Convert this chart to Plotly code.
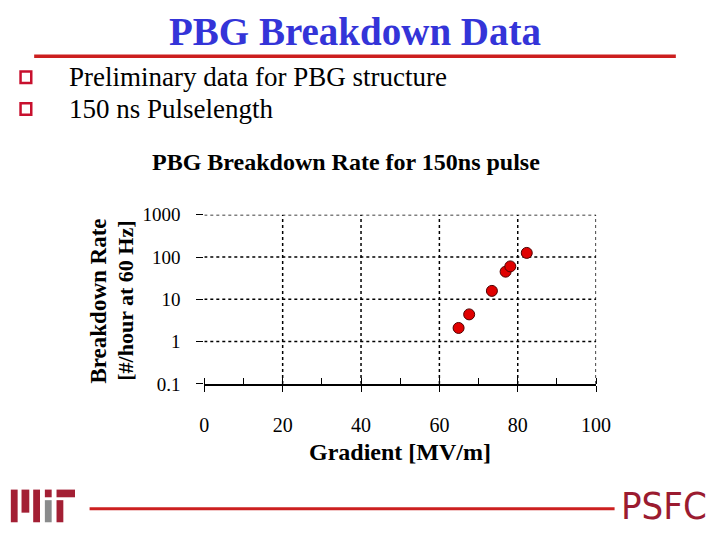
import plotly.graph_objects as go

# ---- data ----
gradient = [64.9, 67.6, 73.4, 76.9, 78.1, 82.3]          # MV/m
rate = [2.1, 4.4, 15.8, 45, 60, 125]                     # #/hour at 60 Hz
x_ticks = [0, 20, 40, 60, 80, 100]
x_tick_text = ["0", "20", "40", "60", "80", "100"]
y_ticks = [0.1, 1, 10, 100, 1000]
y_tick_text = ["0.1", "1", "10", "100", "1000"]
bullets = ["Preliminary data for PBG structure", "150 ns Pulselength"]

SERIF = "Liberation Serif, Times New Roman, serif"
W, H = 720, 540

def px(x):
    return x / W

def py(y):
    return 1 - y / H

fig = go.Figure()
fig.add_trace(go.Scatter(
    x=gradient, y=rate, mode="markers",
    marker=dict(color="#e00000", size=11, line=dict(color="#500000", width=1)),
    showlegend=False, hoverinfo="skip",
))

shapes = []
for xv in x_ticks[1:]:
    shapes.append(dict(type="line", xref="x", yref="y", x0=xv, x1=xv, y0=y_ticks[0], y1=y_ticks[-1],
                       line=dict(color="black", width=1.5, dash="dot"), layer="below"))
for yv in y_ticks[1:]:
    shapes.append(dict(type="line", xref="x", yref="y", x0=x_ticks[0], x1=x_ticks[-1], y0=yv, y1=yv,
                       line=dict(color="black", width=1.5, dash="dot"), layer="below"))

# title underline
shapes.append(dict(type="line", xref="paper", yref="paper", x0=px(30), x1=px(690), y0=py(48), y1=py(48),
                   line=dict(color="#cc1f1f", width=3.5)))
# bullets (hollow red squares)
for yc in [70, 103]:
    shapes.append(dict(type="rect", xref="paper", yref="paper", x0=px(16), x1=px(27), y0=py(yc - 6), y1=py(yc + 6),
                       line=dict(color="#c8102e", width=2.5), fillcolor="white"))
# footer line
shapes.append(dict(type="line", xref="paper", yref="paper", x0=px(87), x1=px(627), y0=py(519), y1=py(519),
                   line=dict(color="#cc1f1f", width=3)))
# MIT logo bars
mit_red = "#a31f34"
mit_gray = "#8a8b8c"
logo = [
    (6, 13, 499, 533, mit_red),
    (17, 25, 499, 523, mit_red),
    (29, 36, 499, 533, mit_red),
    (41, 48, 499, 507, mit_red),
    (41, 48, 510, 533, mit_gray),
    (53, 72, 499, 507, mit_red),
    (53, 60, 510, 533, mit_red),
]
for x0, x1, y0, y1, c in logo:
    shapes.append(dict(type="rect", xref="paper", yref="paper", x0=px(x0), x1=px(x1), y0=py(y1), y1=py(y0),
                       line=dict(width=0), fillcolor=c))

annotations = [
    dict(text="<b>PBG Breakdown Data</b>", x=px(360), y=py(22), xref="paper", yref="paper",
         showarrow=False, font=dict(family=SERIF, size=39, color="#3434d8"), xanchor="center", yanchor="middle"),
    dict(text="<b>PBG Breakdown Rate for 150ns pulse</b>", x=px(351), y=py(158), xref="paper", yref="paper",
         showarrow=False, font=dict(family=SERIF, size=24, color="black"), xanchor="center", yanchor="middle"),
    dict(text="<b>Breakdown Rate</b>", x=px(96), y=py(303), xref="paper", yref="paper", textangle=-90,
         showarrow=False, font=dict(family=SERIF, size=23, color="black"), xanchor="center", yanchor="middle"),
    dict(text="<b>[#/hour at 60 Hz]</b>", x=px(124), y=py(303), xref="paper", yref="paper", textangle=-90,
         showarrow=False, font=dict(family=SERIF, size=22, color="black"), xanchor="center", yanchor="middle"),
    dict(text="<b>Gradient [MV/m]</b>", x=px(406), y=py(460), xref="paper", yref="paper",
         showarrow=False, font=dict(family=SERIF, size=24, color="black"), xanchor="center", yanchor="middle"),
    dict(text="PSFC", x=px(678), y=py(516), xref="paper", yref="paper",
         showarrow=False, font=dict(family="DejaVu Sans Condensed, Liberation Sans Narrow, sans-serif", size=38, color="#9b1b30"),
         xanchor="center", yanchor="middle"),
]
for i, b in enumerate(bullets):
    annotations.append(dict(text=b, x=px(64), y=py(70 + 33 * i), xref="paper", yref="paper",
                            showarrow=False, font=dict(family=SERIF, size=27, color="black"),
                            xanchor="left", yanchor="middle"))

fig.update_layout(
    width=W, height=H, margin=dict(l=0, r=0, t=0, b=0),
    paper_bgcolor="white", plot_bgcolor="white",
    shapes=shapes, annotations=annotations,
    xaxis=dict(domain=[px(205), px(608)], range=[0, 100], tickvals=x_ticks, ticktext=x_tick_text,
               showgrid=False, zeroline=False, showline=True, linecolor="black", linewidth=1.5,
               ticks="outside", ticklen=6, tickcolor="black",
               minor=dict(ticks="inside", dtick=10, ticklen=6, tickcolor="black", showgrid=False),
               ticklabelstandoff=16, tickfont=dict(family=SERIF, size=20, color="black")),
    yaxis=dict(domain=[py(389), py(213)], type="log", range=[-1, 3], tickvals=y_ticks, ticktext=y_tick_text,
               showgrid=False, zeroline=False, showline=False,
               ticks="outside", ticklen=7, tickcolor="black",
               ticklabelstandoff=12, tickfont=dict(family=SERIF, size=19, color="black")),
)

fig.write_html("out.html")
